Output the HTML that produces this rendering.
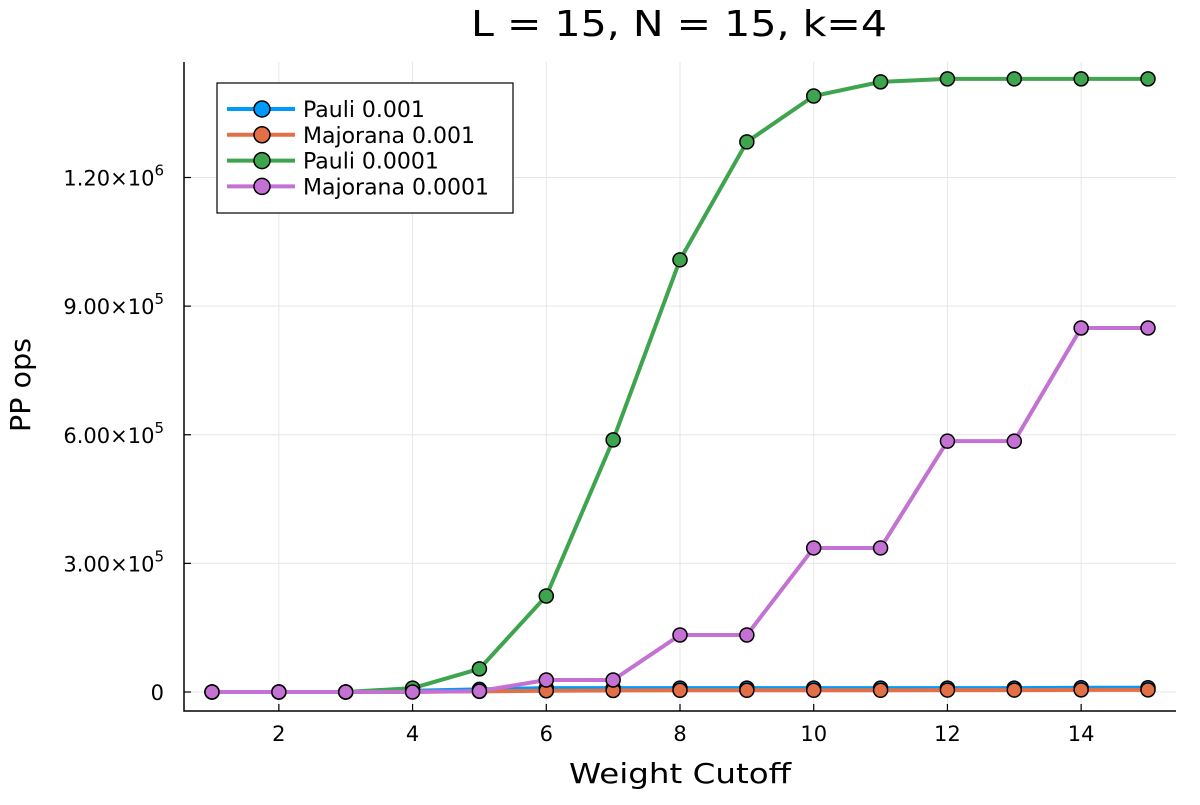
<!DOCTYPE html>
<html><head><meta charset="utf-8"><style>
body{margin:0;background:#fff}
svg text{font-family:"DejaVu Sans","Liberation Sans",sans-serif}
</style></head><body>
<svg id="chart" width="1200" height="800" xmlns="http://www.w3.org/2000/svg">
<rect width="1200" height="800" fill="#fff"/>
<g id="grid"></g><g id="axes"></g><g id="series"></g><g id="legend"></g>
</svg>
<script>
const xValues=[1,2,3,4,5,6,7,8,9,10,11,12,13,14,15];
const pauli001=[0,0,0,3000,6000,9000,9000,9000,9000,9000,9000,9000,9000,10000,10000];
const majorana001=[0,0,0,1000,1500,3000,3500,4000,4000,4000,4000,4500,4500,5000,5000];
const pauli0001=[0,0,0,9000,54000,224000,588000,1008000,1283000,1390000,1423000,1430000,1430000,1430000,1430000];
const majorana0001=[0,0,0,0,2000,28000,28000,133000,133000,336000,336000,585000,585000,849000,849000];
const seriesNames=["Pauli 0.001","Majorana 0.001","Pauli 0.0001","Majorana 0.0001"];
const seriesColors=["#009AFA","#E36F47","#3EA44E","#C371D2"];
const xTicks=[2,4,6,8,10,12,14];
const yTicks=[0,300000,600000,900000,1200000];
const yTickLabels=["0","3.00×10^5","6.00×10^5","9.00×10^5","1.20×10^6"];
const NS="http://www.w3.org/2000/svg";
const L=184,R=1176,T=62,B=711;
function sx(v){return 212+(v-1)*(1148-212)/14;}
function sy(v){return 692-v*(692-177.5)/1200000;}
function mk(tag,attrs,parent){const e=document.createElementNS(NS,tag);for(const k in attrs)e.setAttribute(k,attrs[k]);parent.appendChild(e);return e;}
const grid=document.getElementById('grid'),axes=document.getElementById('axes'),ser=document.getElementById('series'),leg=document.getElementById('legend');
xTicks.forEach(t=>{
 const g=mk('line',{x1:sx(t),x2:sx(t),y1:T,y2:B,stroke:'#e6e6e6','stroke-width':1},grid);
 
 
 const tk=mk('line',{x1:sx(t),x2:sx(t),y1:B,y2:B-7,stroke:'#000','stroke-width':1.2},axes);
 
 
 const tx=mk('text',{x:sx(t),y:B+30,'text-anchor':'middle','font-size':21},axes);tx.textContent=t;
 
 
});
yTicks.forEach((t,i)=>{
 const g=mk('line',{x1:L,x2:R,y1:sy(t),y2:sy(t),stroke:'#e6e6e6','stroke-width':1},grid);
 
 
 const tk=mk('line',{x1:L,x2:L+7,y1:sy(t),y2:sy(t),stroke:'#000','stroke-width':1.2},axes);
 
 
 const parts=yTickLabels[i].split('^');
 const tx=mk('text',{x:164,y:sy(t)+8,'text-anchor':'end','font-size':21},axes);
 
 
 if(parts.length>1){tx.textContent=parts[0];const s=mk('tspan',{dy:-10,'font-size':15},tx);s.textContent=parts[1];}
 else tx.textContent=parts[0];
});
const ax=mk('path',{d:`M${L} ${T}V${B}H${R}`,fill:'none',stroke:'#000','stroke-width':1.5},axes);


const title=mk('text',{x:679,y:36,'text-anchor':'middle','font-size':36,textLength:416,lengthAdjust:'spacingAndGlyphs'},axes);title.textContent='L = 15, N = 15, k=4';


const xl=mk('text',{x:680,y:783,'text-anchor':'middle','font-size':28,textLength:222,lengthAdjust:'spacingAndGlyphs'},axes);xl.textContent='Weight Cutoff';


const yl=mk('text',{x:30,y:385,'text-anchor':'middle','font-size':28,textLength:94,lengthAdjust:'spacingAndGlyphs',transform:'rotate(-90 30 385)'},axes);yl.textContent='PP ops';


const allSeries=[pauli001,majorana001,pauli0001,majorana0001];
allSeries.forEach((vals,si)=>{
 const g=mk('g',{},ser);
 
 
 const p=mk('polyline',{points:vals.map((v,i)=>sx(xValues[i])+','+sy(v)).join(' '),fill:'none',stroke:seriesColors[si],'stroke-width':4,'stroke-linejoin':'round'},g);
 
 
 vals.forEach((v,i)=>{
  const c=mk('circle',{cx:sx(xValues[i]),cy:sy(v),r:7,fill:seriesColors[si],stroke:'#000','stroke-width':1.5},g);
  
  
 });
});
const lb=mk('rect',{x:217,y:83,width:296,height:130,fill:'#fff',stroke:'#000','stroke-width':1.2},leg);


seriesNames.forEach((n,i)=>{
 const y=109+i*25.8;
 const g=mk('g',{},leg);
 
 
 mk('line',{x1:227,x2:295,y1:y,y2:y,stroke:seriesColors[i],'stroke-width':4},g);
 mk('circle',{cx:262,cy:y,r:8,fill:seriesColors[i],stroke:'#000','stroke-width':1.5},g);
 const t=mk('text',{x:303,y:y+8,'font-size':22},g);t.textContent=n;
});
</script>
</body></html>
